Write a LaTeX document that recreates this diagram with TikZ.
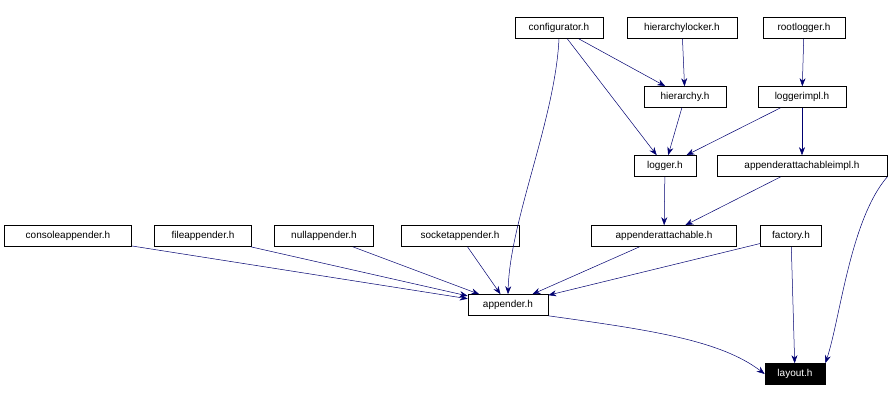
\documentclass[tikz,border=0pt]{standalone}
\usepackage{fontspec}
\setmainfont{Liberation Sans}
\usetikzlibrary{arrows.meta}
\tikzset{
  file/.style={draw, rectangle, inner sep=0pt, minimum height=21pt, font=\fontsize{10}{12}\selectfont, line width=0.6pt},
  hdr/.style={file, fill=black, text=white},
  dep/.style={-{Stealth[length=8pt,width=6pt]}, draw=blue!30!black!80!blue, line width=0.5pt}
}
\begin{document}
\begin{tikzpicture}[x=1pt,y=-1pt]
\useasboundingbox (0,0) rectangle (892,401);
% top row
\node[file, minimum width=88pt] (configurator) at (559,28) {configurator.h};
\node[file, minimum width=110pt] (hierarchylocker) at (682,28) {hierarchylocker.h};
\node[file, minimum width=82pt] (rootlogger) at (804,28) {rootlogger.h};
% second row
\node[file, minimum width=82pt] (hierarchy) at (685,97) {hierarchy.h};
\node[file, minimum width=88pt] (loggerimpl) at (802,97) {loggerimpl.h};
% third row
\node[file, minimum width=62pt] (logger) at (665,166) {logger.h};
\node[file, minimum width=170pt] (aaimpl) at (802,166) {appenderattachableimpl.h};
% fourth row
\node[file, minimum width=127pt] (consoleappender) at (68,236) {consoleappender.h};
\node[file, minimum width=97pt] (fileappender) at (203,236) {fileappender.h};
\node[file, minimum width=99pt] (nullappender) at (324,236) {nullappender.h};
\node[file, minimum width=118pt] (socketappender) at (460,236) {socketappender.h};
\node[file, minimum width=145pt] (aa) at (664,236) {appenderattachable.h};
\node[file, minimum width=61pt] (factory) at (791,236) {factory.h};
% bottom
\node[file, minimum width=80pt] (appender) at (508,305) {appender.h};
\node[hdr, minimum width=60pt] (layout) at (795,374) {layout.h};
% edges
\draw[dep] (configurator) -- (hierarchy);
\draw[dep] (configurator) -- (logger);
\draw[dep] (configurator.south) .. controls (555,120) and (510,220) .. (appender.north);
\draw[dep] (hierarchylocker) -- (hierarchy);
\draw[dep] (rootlogger) -- (loggerimpl);
\draw[dep] (hierarchy) -- (logger);
\draw[dep] (loggerimpl) -- (logger);
\draw[dep] (loggerimpl) -- (aaimpl);
\draw[dep] (logger) -- (aa);
\draw[dep] (aaimpl) -- (aa);
\draw[dep] (aaimpl.south east) .. controls (850,220) and (840,320) .. (layout.north east);
\foreach \src in {consoleappender,fileappender,nullappender,socketappender,aa,factory}
  \draw[dep] (\src) -- (appender);
\draw[dep] (factory) -- (layout);
\draw[dep] (appender.south east) .. controls (650,330) and (720,340) .. (layout.west);
\end{tikzpicture}
\end{document}
